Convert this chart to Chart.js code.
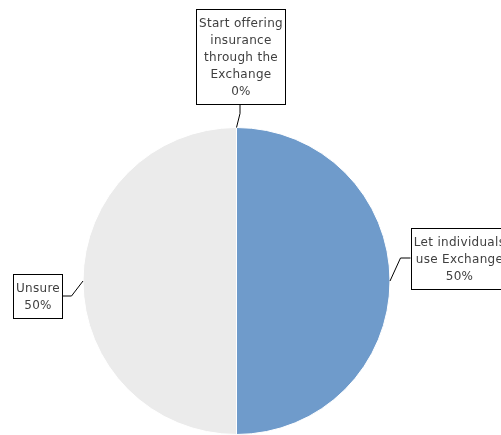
<!DOCTYPE html>
<html>
<head>
<meta charset="utf-8">
<script src="https://cdn.jsdelivr.net/npm/chart.js@4/dist/chart.umd.min.js"></script>
<style>
  html, body { margin: 0; padding: 0; background: #ffffff; }
  #wrap { position: relative; width: 501px; height: 435px; }
</style>
</head>
<body>
<div id="wrap"><canvas id="pie"></canvas></div>
<script>
// Survey answers and their shares (percent)
const categories = [
  ["Start offering", "insurance", "through the", "Exchange"],
  ["Let individuals", "use Exchange"],
  ["Unsure"]
];
const shares = [0, 50, 50];
const sliceColors = ["#4f81bd", "#6f9bcb", "#ebebeb"];

// Callout placement per slice: elbow and box attachment point, relative to the
// point on the pie edge at the slice's middle angle.
const callouts = [
  { elbow: [3.5, -14], attach: [3.5, -24], side: "bottom" },
  { elbow: [10.5, -23], attach: [20.5, -23], side: "left" },
  { elbow: [-11.5, 15], attach: [-21.5, 15], side: "right" }
];

const calloutPlugin = {
  id: "callouts",
  afterDatasetsDraw(chart) {
    const ctx = chart.ctx;
    const meta = chart.getDatasetMeta(0);
    const lineH = 17;
    ctx.save();
    ctx.font = "12px 'DejaVu Sans', Verdana, sans-serif";
    if ("letterSpacing" in ctx) ctx.letterSpacing = "0.3px";
    meta.data.forEach((arc, i) => {
      const p = arc.getProps(["x", "y", "startAngle", "endAngle", "outerRadius"], true);
      const mid = (p.startAngle + p.endAngle) / 2;
      const ax = p.x + Math.cos(mid) * p.outerRadius;
      const ay = p.y + Math.sin(mid) * p.outerRadius;
      const c = callouts[i];
      const ex = ax + c.elbow[0], ey = ay + c.elbow[1];
      const bx = ax + c.attach[0], by = ay + c.attach[1];

      const lines = categories[i].concat([shares[i] + "%"]);
      const tw = Math.max(...lines.map(s => ctx.measureText(s).width));
      const w = Math.round(tw + 5);
      const h = lines.length * lineH + 10;
      let left, top;
      if (c.side === "bottom") { left = bx - w / 2; top = by - h; }
      else if (c.side === "left") { left = bx; top = by - h / 2; }
      else { left = bx - w; top = by - h / 2; }
      left = Math.round(left) + 0.5; top = Math.round(top) + 0.5;

      // leader line
      ctx.strokeStyle = "#000000";
      ctx.lineWidth = 1;
      ctx.beginPath();
      ctx.moveTo(ax, ay);
      ctx.lineTo(ex, ey);
      ctx.lineTo(bx, by);
      ctx.stroke();

      // label box
      ctx.fillStyle = "#ffffff";
      ctx.fillRect(left, top, w, h);
      ctx.strokeRect(left, top, w, h);

      ctx.fillStyle = "#404040";
      ctx.textAlign = "center";
      ctx.textBaseline = "middle";
      lines.forEach((s, k) => {
        ctx.fillText(s, left + w / 2, top + 5 + lineH * k + lineH / 2 + 0.5);
      });
    });
    ctx.restore();
  }
};

new Chart(document.getElementById("pie"), {
  type: "pie",
  data: {
    labels: categories.map(c => c.join(" ")),
    datasets: [{
      data: shares,
      backgroundColor: sliceColors,
      borderColor: "#ffffff",
      borderWidth: 1
    }]
  },
  options: {
    responsive: true,
    maintainAspectRatio: false,
    animation: false,
    layout: { padding: { top: 127, bottom: 0, left: 0, right: 28 } },
    plugins: {
      legend: { display: false },
      tooltip: { enabled: false }
    }
  },
  plugins: [calloutPlugin]
});
</script>
</body>
</html>
